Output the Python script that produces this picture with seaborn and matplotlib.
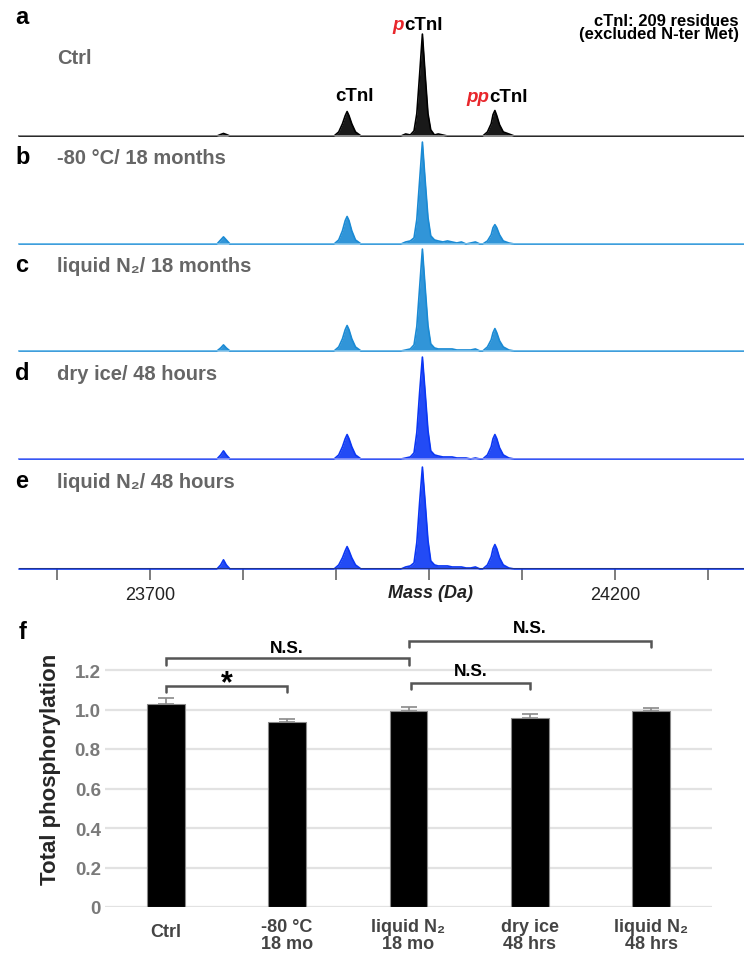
import matplotlib
matplotlib.use("Agg")
import matplotlib.pyplot as plt
import matplotlib.transforms as mtransforms
import seaborn as sns
import pandas as pd
import numpy as np

# ---------------- data ----------------
# shared mass grid of the deconvoluted spectra (Da)
MASS = [23559,
        23772, 23776, 23779, 23782, 23786,
        23898, 23903, 23907, 23910, 23912, 23914, 23917, 23921, 23927,
        23970, 23975, 23980, 23984, 23987, 23990, 23993, 23996, 23999, 24002, 24006, 24010, 24015, 24020,
        24025, 24030, 24035, 24040, 24045, 24050, 24055,
        24058, 24063, 24067, 24069, 24071, 24073, 24076, 24080, 24086, 24092,
        24339]

# relative intensities (% of pcTnI)
INT_CTRL = [0,
            0, 1.5, 2.5, 1.5, 0,
            0, 4, 12, 20, 24, 20, 12, 4, 0,
            0, 2, 1, 5, 22, 60, 100, 60, 22, 6, 1, 2, 1, 0,
            0, 0, 0, 0, 0, 0, 0,
            0, 4, 12, 21, 25, 20, 11, 4, 2, 0,
            0]
INT_M80_18MO = [0,
                0, 4, 7, 4, 0,
                0, 4, 13, 23, 27, 23, 13, 4, 0,
                0, 2, 3, 6, 24, 62, 100, 62, 26, 8, 4, 3, 2, 3,
                2, 1, 2, 0, 1, 2, 0,
                0, 3, 9, 16, 19, 16, 9, 3, 1, 0,
                0]
INT_LN2_18MO = [0,
                0, 3, 6, 3, 0,
                0, 4, 12, 21, 25, 21, 12, 4, 0,
                0, 1, 2, 6, 24, 62, 100, 62, 25, 7, 3, 2, 2, 2,
                2, 1, 1, 1, 1, 2, 0,
                0, 4, 11, 18, 22, 18, 10, 4, 1, 0,
                0]
INT_DRY_48H = [0,
               0, 4, 8, 4, 0,
               0, 4, 12, 20, 24, 20, 12, 4, 0,
               0, 1, 2, 6, 26, 65, 100, 65, 28, 8, 4, 3, 2, 2,
               2, 1, 1, 1, 0, 1, 0,
               0, 4, 12, 20, 24, 20, 11, 4, 1, 0,
               0]
INT_LN2_48H = [0,
               0, 4, 9, 4, 0,
               0, 4, 11, 18, 22, 18, 11, 4, 0,
               0, 2, 3, 6, 26, 65, 100, 65, 28, 8, 4, 3, 3, 3,
               2, 2, 2, 1, 1, 2, 0,
               0, 4, 12, 20, 24, 20, 11, 4, 1, 0,
               0]

PANEL_LETTERS = ["a", "b", "c", "d", "e"]
PANEL_TITLES = ["Ctrl", "-80 °C/ 18 months", "liquid N₂/ 18 months",
                "dry ice/ 48 hours", "liquid N₂/ 48 hours"]
SPECTRA = [INT_CTRL, INT_M80_18MO, INT_LN2_18MO, INT_DRY_48H, INT_LN2_48H]

MASS_TICKS = [23600, 23700, 23800, 23900, 24000, 24100, 24200, 24300]
MASS_TICK_LABELS = ["", "23700", "", "", "", "", "24200", ""]

# bar chart (panel f)
CONDITIONS = ["Ctrl", "-80 °C\n18 mo", "liquid N₂\n18 mo", "dry ice\n48 hrs", "liquid N₂\n48 hrs"]
PHOS = [1.03, 0.935, 0.99, 0.957, 0.99]
PHOS_ERR = [0.028, 0.017, 0.025, 0.022, 0.02]
Y_TICKS = [0, 0.2, 0.4, 0.6, 0.8, 1.0, 1.2]
Y_TICK_LABELS = ["0", "0.2", "0.4", "0.6", "0.8", "1.0", "1.2"]

# ---------------- style ----------------
sns.set_theme(style="white")
plt.rcParams["font.family"] = ["Liberation Sans", "DejaVu Sans"]

W, H = 744, 954
fig = plt.figure(figsize=(W / 100, H / 100), dpi=100)
fig.patch.set_facecolor("white")


def fx(x):
    return x / W


def fy(y):
    return 1 - y / H


# ---------------- spectra ----------------
BASELINES = [137, 245, 352, 460, 570]
LINE_COLORS = ["#000000", "#1a8ad4", "#1a8ad4", "#0b37f4", "#0b37f4"]
BASE_COLORS = ["#8a8a8a", "#72bde9", "#72bde9", "#7d8af6", "#22348c"]
TITLE_Y = [58, 158, 266, 374, 482]
LETTER_Y = [17, 158, 266, 374, 482]

for k in range(5):
    base = BASELINES[k]
    ax = fig.add_axes([fx(19), fy(base), fx(744) - fx(19), 106 / H])
    df = pd.DataFrame({"mass": MASS, "intensity": SPECTRA[k]})
    ax.fill_between(df["mass"], 0, df["intensity"], color=LINE_COLORS[k],
                    alpha=0.9, linewidth=0, clip_on=False)
    sns.lineplot(data=df, x="mass", y="intensity", ax=ax, color=LINE_COLORS[k],
                 linewidth=1.2, sort=False, estimator=None, clip_on=False)
    ax.axhline(0, color=BASE_COLORS[k], lw=1.4 if k < 4 else 2.2, zorder=3)
    ax.set_xlim(23559, 24339)
    ax.set_ylim(0, 104)
    ax.set_facecolor("none")
    for s in ax.spines.values():
        s.set_visible(False)
    ax.set_xlabel("")
    ax.set_ylabel("")
    ax.set_yticks([])
    if k < 4:
        ax.set_xticks([])
    else:
        ax.set_xticks(MASS_TICKS)
        ax.set_xticklabels(MASS_TICK_LABELS, fontsize=13, color="#222222")
        ax.tick_params(axis="x", direction="out", length=8, width=1.2,
                       color="#666666", pad=4, bottom=True)
    fig.text(fx(15), fy(LETTER_Y[k]), PANEL_LETTERS[k], fontsize=17,
             fontweight="bold", color="black", va="center", ha="left")
    fig.text(fx(57), fy(TITLE_Y[k]), PANEL_TITLES[k], fontsize=14.5,
             fontweight="bold", color="#666666", va="center", ha="left")

fig.text(fx(430), fy(593), "Mass (Da)", fontsize=13, fontweight="bold",
         fontstyle="italic", color="#222222", ha="center", va="center")

# peak annotations
fig.text(fx(739), fy(21), "cTnI: 209 residues", fontsize=12, fontweight="bold",
         ha="right", va="center", color="black")
fig.text(fx(739), fy(35), "(excluded N-ter Met)", fontsize=12, fontweight="bold",
         ha="right", va="center", color="black")
fig.text(fx(355), fy(97), "cTnI", fontsize=13.5, fontweight="bold",
         ha="center", va="center", color="black")


def two_color(xc, yc, prefix):
    fig.text(fx(xc), fy(yc), prefix, fontsize=13.5, fontweight="bold",
             fontstyle="italic", color="#e8262b", ha="right", va="center")
    fig.text(fx(xc), fy(yc), "cTnI", fontsize=13.5, fontweight="bold",
             color="black", ha="left", va="center")


two_color(404, 25, "p")
two_color(489, 98, "pp")

# ---------------- bar chart (f) ----------------
y0_px, unit_px = 908, 197.5
ylim_top = 1.4
axb = fig.add_axes([fx(105), fy(y0_px), fx(712) - fx(105), ylim_top * unit_px / H])
bdf = pd.DataFrame({"cond": CONDITIONS, "phos": PHOS})
sns.barplot(data=bdf, x="cond", y="phos", ax=axb, color="black", width=0.31,
            errorbar=None, edgecolor="#8a8a8a", linewidth=0.8, saturation=1)
axb.errorbar(range(len(PHOS)), PHOS, yerr=[np.zeros(len(PHOS)), PHOS_ERR],
             fmt="none", ecolor="#8a8a8a", elinewidth=1.2, capsize=6, capthick=1.2)
axb.set_xlim(-0.5, 4.5)
axb.set_ylim(0, ylim_top)
axb.set_yticks(Y_TICKS)
axb.set_yticklabels(Y_TICK_LABELS, fontsize=13.5, fontweight="bold", color="#7a7a7a")
axb.set_xticks(range(len(CONDITIONS)))
axb.set_xticklabels(CONDITIONS, fontsize=13, fontweight="bold", color="#444444",
                    linespacing=1.0)
axb.tick_params(axis="both", length=0)
axb.tick_params(axis="y", pad=3)
axb.tick_params(axis="x", pad=8)
# single-line "Ctrl" label sits slightly lower, between the two text lines
lbl0 = axb.get_xticklabels()[0]
lbl0.set_transform(lbl0.get_transform() +
                   mtransforms.ScaledTranslation(0, -5 / 100, fig.dpi_scale_trans))
axb.yaxis.grid(True, color="#e2e2e2", linewidth=1.6)
axb.set_axisbelow(True)
for s in axb.spines.values():
    s.set_visible(False)
axb.set_xlabel("")
axb.set_ylabel("Total phosphorylation", fontsize=16, fontweight="bold",
               color="#262626", labelpad=10)

# significance brackets
BR_COLOR = "#555555"


def bracket(x1, x2, y, drop, label, ty, fs):
    axb.plot([x1, x1, x2, x2], [y - drop, y, y, y - drop], color=BR_COLOR,
             lw=1.8, clip_on=False, solid_joinstyle="miter")
    if label:
        axb.text((x1 + x2) / 2, ty, label, ha="center", va="center", fontsize=fs,
                 fontweight="bold", color="black", clip_on=False)


bracket(0, 1, 1.119, 0.03, "", 0, 12)
axb.text(0.5, 1.135, "*", ha="center", va="center", fontsize=22,
         fontweight="bold", color="black")
bracket(0, 2, 1.261, 0.035, "N.S.", 1.315, 12.5)
bracket(2.02, 3.0, 1.134, 0.03, "N.S.", 1.195, 12.5)
bracket(2.0, 4.0, 1.347, 0.03, "N.S.", 1.413, 12.5)

fig.text(fx(19), fy(633), "f", fontsize=17, fontweight="bold", color="black",
         ha="left", va="center")

fig.savefig("out.png", dpi=100, facecolor="white")
